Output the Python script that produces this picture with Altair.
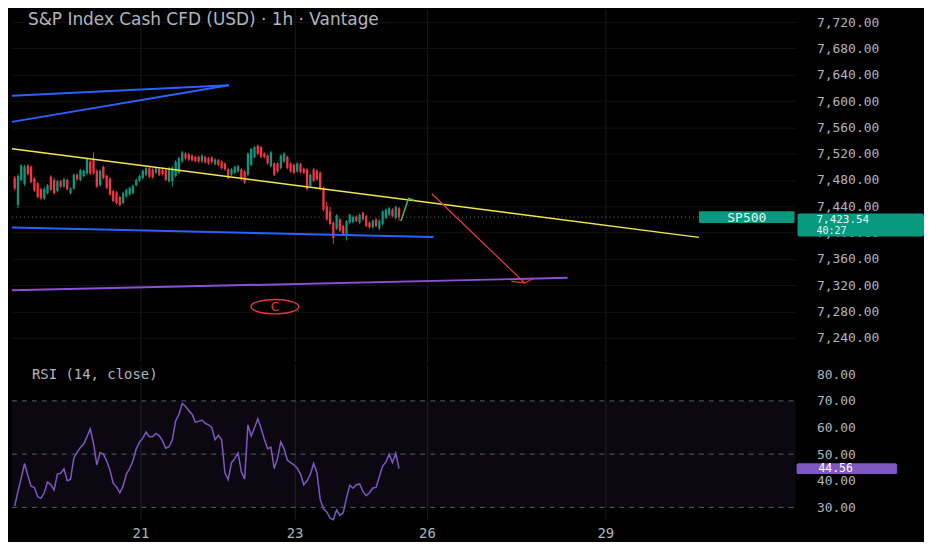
import json
import altair as alt
import pandas as pd

# ---------------- data ----------------
TITLE = "S&P Index Cash CFD (USD) · 1h · Vantage"
SYMBOL = "SP500"
COUNTDOWN = "40:27"
RSI_TITLE = "RSI (14, close)"

opens = [7483, 7442, 7480, 7474, 7502, 7500, 7482, 7475, 7466, 7452,
         7460, 7485, 7480, 7463, 7478, 7470, 7480, 7460, 7467, 7488,
         7480, 7486, 7490, 7508, 7512, 7494, 7472, 7500, 7486, 7482,
         7463, 7461, 7454, 7445, 7455, 7458, 7460, 7472, 7479, 7483,
         7488, 7498, 7496, 7491, 7497, 7495, 7495, 7478, 7478, 7486,
         7491, 7508, 7520, 7519, 7517, 7515, 7515, 7508, 7515, 7513,
         7514, 7504, 7510, 7508, 7505, 7496, 7488, 7491, 7493, 7496,
         7493, 7488, 7503, 7515, 7532, 7530, 7520, 7517, 7501, 7505,
         7505, 7498, 7508, 7515, 7505, 7503, 7493, 7504, 7497, 7496,
         7471, 7496, 7494, 7491, 7468, 7440, 7432, 7415, 7406, 7420,
         7410, 7398, 7415, 7416, 7424, 7415, 7430, 7425, 7415, 7408,
         7420, 7406, 7413, 7422, 7427, 7435, 7422, 7437]
closes = [7467, 7486, 7502, 7500, 7489, 7477, 7464, 7454, 7452, 7466,
          7472, 7465, 7460, 7478, 7470, 7481, 7466, 7467, 7488, 7481,
          7495, 7494, 7512, 7490, 7490, 7470, 7494, 7483, 7468, 7458,
          7448, 7445, 7442, 7460, 7465, 7468, 7471, 7480, 7486, 7494,
          7498, 7485, 7484, 7498, 7488, 7489, 7480, 7498, 7499, 7508,
          7513, 7522, 7513, 7511, 7510, 7509, 7508, 7517, 7507, 7505,
          7507, 7511, 7503, 7498, 7496, 7483, 7496, 7500, 7501, 7481,
          7476, 7520, 7527, 7530, 7520, 7515, 7515, 7505, 7522, 7488,
          7493, 7517, 7520, 7498, 7493, 7491, 7505, 7492, 7491, 7466,
          7488, 7479, 7481, 7466, 7435, 7420, 7413, 7392, 7426, 7403,
          7398, 7417, 7427, 7424, 7418, 7427, 7420, 7410, 7408, 7418,
          7410, 7418, 7432, 7435, 7437, 7425, 7439, 7423.54]
highs = [7486, 7489, 7504, 7503, 7504, 7502, 7484, 7477, 7468, 7469,
         7474, 7487, 7483, 7480, 7480, 7483, 7482, 7469, 7490, 7490,
         7497, 7496, 7514, 7510, 7522, 7496, 7496, 7502, 7488, 7484,
         7465, 7463, 7456, 7462, 7467, 7470, 7473, 7482, 7488, 7496,
         7500, 7500, 7498, 7500, 7499, 7497, 7497, 7500, 7501, 7510,
         7515, 7524, 7522, 7521, 7519, 7517, 7517, 7519, 7517, 7515,
         7516, 7513, 7512, 7510, 7507, 7498, 7498, 7502, 7503, 7498,
         7495, 7522, 7529, 7532, 7534, 7532, 7522, 7519, 7524, 7507,
         7507, 7519, 7522, 7517, 7507, 7505, 7507, 7506, 7499, 7498,
         7490, 7498, 7496, 7493, 7470, 7447, 7439, 7417, 7428, 7422,
         7412, 7419, 7429, 7426, 7426, 7429, 7432, 7427, 7417, 7420,
         7422, 7420, 7434, 7437, 7439, 7437, 7441, 7439]
lows = [7464, 7437, 7478, 7471, 7487, 7475, 7462, 7452, 7450, 7450,
        7458, 7463, 7458, 7461, 7468, 7468, 7464, 7458, 7465, 7479,
        7478, 7484, 7488, 7488, 7488, 7468, 7470, 7481, 7466, 7456,
        7446, 7443, 7440, 7443, 7453, 7456, 7458, 7470, 7477, 7481,
        7486, 7483, 7482, 7489, 7486, 7487, 7478, 7476, 7470, 7484,
        7489, 7506, 7511, 7509, 7508, 7507, 7506, 7506, 7505, 7503,
        7505, 7502, 7501, 7496, 7494, 7481, 7486, 7489, 7491, 7479,
        7474, 7486, 7501, 7513, 7518, 7513, 7513, 7503, 7499, 7486,
        7491, 7496, 7506, 7496, 7491, 7489, 7491, 7490, 7489, 7464,
        7469, 7477, 7479, 7464, 7432, 7418, 7411, 7383, 7404, 7401,
        7396, 7388, 7413, 7414, 7416, 7413, 7418, 7408, 7406, 7406,
        7408, 7404, 7411, 7420, 7425, 7423, 7420, 7418]
rsi = [30.5, 36, 41, 46.5, 42, 38, 37.5, 34, 33.4, 35.5,
       39.5, 38.5, 36.5, 42.5, 42.8, 44.5, 40, 40.5, 48.5, 50.7,
       52.5, 53.8, 56.5, 59.5, 54, 46, 50.5, 50, 47.5, 44,
       39, 37.7, 35.5, 38, 42.5, 44.6, 47.5, 52, 54.5, 56,
       58.3, 56.5, 56.6, 57.8, 57, 55, 52.2, 52.8, 55.5, 62.5,
       65, 69, 68, 66.3, 65, 62, 62.3, 62.8, 61.6, 61,
       60, 55.4, 57.1, 55.4, 43, 40.4, 46.8, 48.3, 50.5, 43.4,
       40.7, 61, 56.8, 59.9, 63.3, 59.7, 55.6, 52, 52.6, 44.6,
       48.3, 54.6, 52, 47.7, 46.8, 46, 44.7, 42.5, 38.5, 40,
       42.4, 46.5, 43, 33, 29.5, 28.3, 26, 25.4, 29, 27,
       28, 33.5, 38.3, 37.2, 38.5, 38.8, 36, 34.4, 35.5, 37.3,
       37.5, 41.5, 45.5, 47, 50, 46.8, 50.3, 44.56]

price_ticks = [7240, 7280, 7320, 7360, 7400, 7440, 7480, 7520, 7560, 7600, 7640, 7680, 7720]
rsi_ticks = [30, 40, 50, 60, 70, 80]
rsi_levels = [70, 50, 30]
rsi_band = [30, 70]
day_pos = [38.3, 85.2, 125.5, 179.8]      # bar index of each date label
day_labels = ["21", "23", "26", "29"]

# drawings: (bar index, price) end points
yellow_x, yellow_y = [-0.82, 208.3], [7527.4, 7392.7]
blue_low_x, blue_low_y = [-0.82, 127.5], [7407.8, 7393.1]
blue_a_x, blue_a_y = [-0.82, 65.2], [7607.9, 7624.0]
blue_b_x, blue_b_y = [-0.82, 65.2], [7568.3, 7624.0]
purple_x, purple_y = [-0.82, 168.3], [7312.2, 7331.2]
arrow_x, arrow_y = [126.97, 155.24], [7459.0, 7323.4]
head_x, head_y = [151.2, 155.24, 157.76], [7325.8, 7323.4, 7329.7]
green_x, green_y = [117.58, 119.88, 121.6], [7417.6, 7451.7, 7449.3]
wave_x, wave_y, wave_label = [79.2], [7287.3], ["C"]

# ---------------- styling ----------------
BG = "#000000"
UP = "#089981"
DOWN = "#f23645"
TXT = "#b2b5be"
GRID = "#1c1c1c"
FONT = "DejaVu Sans"
MONO = "DejaVu Sans Mono"
PLOT_W = 787
PRICE_H = 354
RSI_H = 157

xscale = alt.Scale(domain=[-0.82, 237.7], nice=False, zero=False)
pscale = alt.Scale(domain=[7203.8, 7739.7], nice=False, zero=False)
rscale = alt.Scale(domain=[25.3, 84.0], nice=False, zero=False)

label_expr = f"{json.dumps(day_labels)}[indexof({json.dumps(day_pos)}, datum.value)]"

x_axis_top = alt.Axis(values=day_pos, labels=False, ticks=False, domain=False,
                      grid=True, gridColor=GRID, title=None, zindex=0)
x_axis_bot = alt.Axis(values=day_pos, labelExpr=label_expr, ticks=False, domain=False,
                      grid=True, gridColor=GRID, title=None, labelColor=TXT,
                      labelFont=MONO, labelFontSize=14, labelPadding=7,
                      labelOverlap=False, labelFlush=False, zindex=0)
p_axis = alt.Axis(orient="right", values=price_ticks, format=",.2f", ticks=False,
                  domain=False, grid=True, gridColor="#121212", title=None,
                  labelAlign="left", labelPadding=21, labelColor=TXT,
                  labelFont=MONO, labelFontSize=13, labelOverlap=False, zindex=0)
r_axis = alt.Axis(orient="right", values=rsi_ticks, format=".2f", ticks=False,
                  domain=False, grid=False, title=None,
                  labelAlign="left", labelPadding=21, labelColor=TXT,
                  labelFont=MONO, labelFontSize=13, labelOverlap=False, zindex=0)


# every layer of a pane carries the very same axis object, so they merge into one
def XT(field="x"):
    return alt.X(f"{field}:Q", scale=xscale, axis=x_axis_top)


def XB(field="x"):
    return alt.X(f"{field}:Q", scale=xscale, axis=x_axis_bot)


def P(field="y"):
    return alt.Y(f"{field}:Q", scale=pscale, axis=p_axis)


def R(field="y"):
    return alt.Y(f"{field}:Q", scale=rscale, axis=r_axis)


def seg(xs, ys, color, width):
    return alt.Chart(pd.DataFrame({"x": xs, "y": ys})).mark_line(
        color=color, strokeWidth=width).encode(x=XT(), y=P())


# ---------------- price pane ----------------
bars = list(range(len(closes)))
cand = pd.DataFrame({"x": bars, "y": lows, "o": opens, "c": closes, "h": highs})
cand["up"] = cand["c"] >= cand["o"]
ccolor = alt.condition("datum.up", alt.value(UP), alt.value(DOWN))

wicks = alt.Chart(cand).mark_rule(strokeWidth=1).encode(
    x=XT(), y=P("y"), y2="h:Q", color=ccolor)
bodies = alt.Chart(cand).mark_rule(strokeWidth=2.3).encode(
    x=XT(), y=P("o"), y2="c:Q", color=ccolor)

last = pd.DataFrame({"y": [closes[-1]], "sym": [SYMBOL],
                     "price": [f"{closes[-1]:,.2f}"], "cd": [COUNTDOWN]})
price_line = alt.Chart(last).mark_rule(color="#6a6d78", strokeDash=[1, 3], strokeWidth=1).encode(
    x=alt.value(0), x2=alt.value(PLOT_W), y=P())

sym_box = alt.Chart(last).mark_rect(color=UP, yOffset=-6, y2Offset=6, cornerRadius=1).encode(
    x=alt.value(690), x2=alt.value(786), y=P(), y2="y:Q")
sym_txt = alt.Chart(last).mark_text(color="#e8f5f1", font=MONO, fontSize=13, align="center",
                                    baseline="middle", dy=0.5).encode(
    x=alt.value(738), y=P(), text="sym:N")
price_box = alt.Chart(last).mark_rect(color=UP, yOffset=-3.5, y2Offset=19.5, cornerRadius=2).encode(
    x=alt.value(789), x2=alt.value(916), y=P(), y2="y:Q")
price_txt = alt.Chart(last).mark_text(color="#e8f5f1", font=MONO, fontSize=11, align="left",
                                      baseline="middle", dy=3).encode(
    x=alt.value(808), y=P(), text="price:N")
cd_txt = alt.Chart(last).mark_text(color="#e8f5f1", font=MONO, fontSize=10, align="left",
                                   baseline="middle", dy=13.5).encode(
    x=alt.value(808), y=P(), text="cd:N")

wave = pd.DataFrame({"x": wave_x, "y": wave_y, "t": wave_label})
ellipse = alt.Chart(wave).mark_point(
    shape="M -1 0 A 1 0.3 0 1 0 1 0 A 1 0.3 0 1 0 -1 0 Z", size=2304,
    filled=False, color="#e8353f", strokeWidth=1.4, opacity=1).encode(x=XT(), y=P())
wave_txt = alt.Chart(wave).mark_text(color="#e8353f", font=FONT, fontSize=12,
                                     baseline="middle", dy=0.5).encode(x=XT(), y=P(), text="t:N")

title_df = pd.DataFrame({"t": [TITLE]})
title_txt = alt.Chart(title_df).mark_text(color=TXT, font=FONT, fontSize=17, align="left",
                                          baseline="middle").encode(
    x=alt.value(16), y=alt.value(11), text="t:N")

price_pane = alt.layer(
    wicks, bodies, price_line,
    seg(yellow_x, yellow_y, "#f2e84b", 1.5),
    seg(blue_low_x, blue_low_y, "#2962ff", 2),
    seg(blue_a_x, blue_a_y, "#2962ff", 2),
    seg(blue_b_x, blue_b_y, "#2962ff", 2),
    seg(purple_x, purple_y, "#8c4fd8", 2),
    seg(arrow_x, arrow_y, "#f23645", 1.2),
    seg(head_x, head_y, "#f23645", 1.2),
    seg(green_x, green_y, "#4caf50", 1.6),
    ellipse, wave_txt,
    sym_box, sym_txt, price_box, price_txt, cd_txt,
    title_txt,
).properties(width=PLOT_W, height=PRICE_H)

# ---------------- RSI pane ----------------
rsi_df = pd.DataFrame({"x": bars, "y": rsi})
band = alt.Chart(pd.DataFrame({"y": [rsi_band[0]], "y2": [rsi_band[1]]})).mark_rect(
    color="#7e57c2", opacity=0.09).encode(x=alt.value(0), x2=alt.value(PLOT_W), y=R(), y2="y2:Q")
levels = alt.Chart(pd.DataFrame({"y": rsi_levels})).mark_rule(
    color="#5a5d66", strokeDash=[5, 5], strokeWidth=1).encode(
    x=alt.value(0), x2=alt.value(PLOT_W), y=R())
rsi_line = alt.Chart(rsi_df).mark_line(color="#7e57c2", strokeWidth=1.5).encode(
    x=XB(), y=R())
rlast = pd.DataFrame({"y": [rsi[-1]], "t": [f"{rsi[-1]:.2f}"]})
rsi_box = alt.Chart(rlast).mark_rect(color="#7e57c2", yOffset=-5.5, y2Offset=5.5, cornerRadius=2).encode(
    x=alt.value(788), x2=alt.value(889), y=R(), y2="y:Q")
rsi_txt = alt.Chart(rlast).mark_text(color="#ffffff", font=MONO, fontSize=11.5, align="left",
                                     baseline="middle", dy=0.5).encode(
    x=alt.value(810), y=R(), text="t:N")
rsi_title = alt.Chart(pd.DataFrame({"t": [RSI_TITLE]})).mark_text(
    color=TXT, font=MONO, fontSize=14, align="left", baseline="middle").encode(
    x=alt.value(20), y=alt.value(11.5), text="t:N")

rsi_pane = alt.layer(band, levels, rsi_line, rsi_box, rsi_txt, rsi_title).properties(
    width=PLOT_W, height=RSI_H)

chart = alt.vconcat(price_pane, rsi_pane, spacing=2).properties(
    padding=0, background=BG
).configure_view(stroke=None)

chart.save("out.html", embed_options={"renderer": "svg", "actions": False})
